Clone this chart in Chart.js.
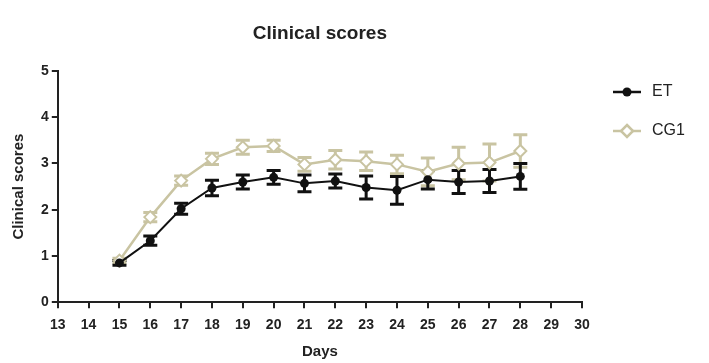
<!DOCTYPE html>
<html>
<head>
<meta charset="utf-8">
<script src="https://cdn.jsdelivr.net/npm/chart.js@4.4.0/dist/chart.umd.min.js"></script>
<style>
  body { margin: 0; background: #fff; }
  #wrap { width: 709px; height: 363px; }
</style>
</head>
<body>
<div id="wrap"><canvas id="mycanvas" width="709" height="363"></canvas></div>
<script>
var days = [15, 16, 17, 18, 19, 20, 21, 22, 23, 24, 25, 26, 27, 28];
var etMean = [0.85, 1.33, 2.02, 2.47, 2.6, 2.7, 2.57, 2.62, 2.48, 2.42, 2.65, 2.6, 2.62, 2.72];
var etErr  = [0.05, 0.1, 0.12, 0.17, 0.15, 0.15, 0.18, 0.15, 0.25, 0.3, 0.2, 0.25, 0.25, 0.28];
var cgMean = [0.9, 1.84, 2.63, 3.1, 3.35, 3.38, 2.98, 3.08, 3.05, 2.98, 2.82, 3.0, 3.02, 3.27];
var cgErr  = [0.05, 0.1, 0.1, 0.12, 0.15, 0.12, 0.15, 0.2, 0.2, 0.2, 0.3, 0.35, 0.4, 0.35];
var seriesNames = ['ET', 'CG1'];
var chartTitle = 'Clinical scores';

var FONT = 'Liberation Sans, Arial, sans-serif';
var BEIGE = '#c9c4a2';

function toPoints(xs, ys) {
  var out = [];
  for (var i in xs) out.push({x: xs[i], y: ys[i]});
  return out;
}

// error bars, title over the plot area, custom legend
var extras = {
  id: 'extras',
  beforeDatasetsDraw: function(chart) {
    var ctx = chart.ctx, xs = chart.scales.x, ys = chart.scales.y;
    var errs = [etErr, cgErr];
    [1, 0].forEach(function(d) {
      var ds = chart.data.datasets[d];
      ctx.save();
      ctx.strokeStyle = ds.borderColor;
      ctx.lineWidth = 3;
      ds.data.forEach(function(p, i) {
        var px = xs.getPixelForValue(p.x);
        var top = ys.getPixelForValue(p.y + errs[d][i]);
        var bot = ys.getPixelForValue(p.y - errs[d][i]);
        ctx.beginPath();
        ctx.moveTo(px, top); ctx.lineTo(px, bot);
        ctx.moveTo(px - 7, top); ctx.lineTo(px + 7, top);
        ctx.moveTo(px - 7, bot); ctx.lineTo(px + 7, bot);
        ctx.stroke();
      });
      ctx.restore();
    });
  },
  afterDraw: function(chart) {
    var ctx = chart.ctx, area = chart.chartArea;
    ctx.save();
    ctx.fillStyle = '#222';
    ctx.font = 'bold 19px ' + FONT;
    ctx.textAlign = 'center';
    ctx.textBaseline = 'middle';
    ctx.fillText(chartTitle, (area.left + area.right) / 2, 34);
    ctx.restore();

    var rows = [92, 131];
    chart.data.datasets.forEach(function(ds, i) {
      var y = rows[i];
      ctx.save();
      ctx.strokeStyle = ds.borderColor;
      ctx.lineWidth = 2.5;
      ctx.beginPath();
      ctx.moveTo(613, y); ctx.lineTo(641, y);
      ctx.stroke();
      if (ds.pointStyle === 'rectRot') {
        ctx.fillStyle = '#fff';
        ctx.beginPath();
        ctx.moveTo(627, y - 6); ctx.lineTo(633, y); ctx.lineTo(627, y + 6); ctx.lineTo(621, y);
        ctx.closePath(); ctx.fill(); ctx.stroke();
      } else {
        ctx.fillStyle = ds.backgroundColor;
        ctx.beginPath(); ctx.arc(627, y, 4.5, 0, Math.PI * 2); ctx.fill();
      }
      ctx.fillStyle = '#222';
      ctx.font = '16px ' + FONT;
      ctx.textBaseline = 'middle';
      ctx.fillText(ds.label, 652, y);
      ctx.restore();
    });
  }
};

var ctx = document.getElementById('mycanvas');
var chart = new Chart(ctx, {
  type: 'line',
  data: {
    datasets: [
      {
        label: seriesNames[0],
        data: toPoints(days, etMean),
        borderColor: '#111',
        backgroundColor: '#111',
        borderWidth: 2,
        pointStyle: 'circle',
        pointRadius: 4.5,
        pointBorderWidth: 0
      },
      {
        label: seriesNames[1],
        data: toPoints(days, cgMean),
        borderColor: BEIGE,
        backgroundColor: '#fff',
        borderWidth: 2.5,
        pointStyle: 'rectRot',
        pointRadius: 6,
        pointBorderWidth: 2
      }
    ]
  },
  options: {
    responsive: false,
    animation: false,
    layout: { padding: { left: 10, right: 127, top: 71, bottom: 2 } },
    plugins: {
      legend: { display: false },
      tooltip: { enabled: false },
      title: { display: false }
    },
    scales: {
      x: {
        type: 'linear',
        min: 13, max: 30,
        ticks: { stepSize: 1, color: '#222', font: { family: FONT, size: 14, weight: 'bold' }, padding: 9, maxRotation: 0 },
        grid: { drawOnChartArea: false, drawTicks: true, tickLength: 6, color: '#222', lineWidth: 2 },
        border: { color: '#222', width: 2 },
        title: { display: true, text: 'Days', color: '#222', font: { family: FONT, size: 15, weight: 'bold' }, padding: { top: 0, bottom: 0 } }
      },
      y: {
        min: 0, max: 5,
        ticks: { stepSize: 1, color: '#222', font: { family: FONT, size: 14, weight: 'bold' }, padding: 3 },
        grid: { drawOnChartArea: false, drawTicks: true, tickLength: 6, color: '#222', lineWidth: 2 },
        border: { color: '#222', width: 2 },
        title: { display: true, text: 'Clinical scores', color: '#222', font: { family: FONT, size: 15, weight: 'bold' }, padding: { top: 0, bottom: 10 } }
      }
    }
  },
  plugins: [extras]
});
</script>
</body>
</html>
